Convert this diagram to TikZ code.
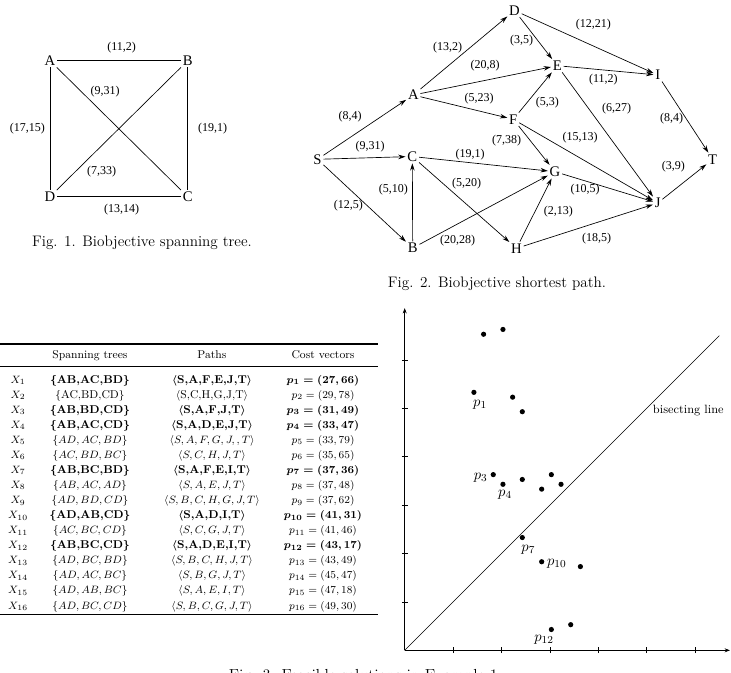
\documentclass[tikz,border=0pt]{standalone}
\usepackage{fontspec}
\usepackage{amsmath}
\newfontfamily\tms{Liberation Serif}
\usetikzlibrary{arrows.meta}
\tikzset{
  vtx/.style={font=\tms\fontsize{11}{11}\selectfont, inner sep=1.2pt},
  elab/.style={font=\tms\fontsize{9}{9}\selectfont, inner sep=0pt},
  edgeone/.style={line width=0.5pt},
  arr/.style={line width=0.5pt, -{Stealth[length=5.5pt,width=3.4pt]}},
  axarr/.style={line width=0.6pt, -{Stealth[length=4pt,width=3pt]}},
  tcell/.style={font=\fontsize{8.5}{10}\selectfont, inner sep=0pt, anchor=base},
  captxt/.style={font=\fontsize{11.4}{13}\selectfont, inner sep=0pt},
  plab/.style={font=\fontsize{11}{11}\selectfont, inner sep=0pt},
  blackdot/.style={fill=black}
}
\newcommand\bb[1]{{\bfseries\boldmath #1}}
\begin{document}
\begin{tikzpicture}[x=0.75pt,y=-0.75pt]
\useasboundingbox (0,0) rectangle (731,672);

% ---------- Fig. 1 ----------
\node[vtx] (fA) at (50,60.7) {A};
\node[vtx] (fB) at (187.7,60.7) {B};
\node[vtx] (fD) at (50,196.7) {D};
\node[vtx] (fC) at (187.7,196.7) {C};
\draw[edgeone] (fA) -- (fB);
\draw[edgeone] (fA) -- (fD);
\draw[edgeone] (fB) -- (fC);
\draw[edgeone] (fD) -- (fC);
\draw[edgeone] (fA) -- (fC);
\draw[edgeone] (fB) -- (fD);
\node[elab] (l11) at (121.7,47.3) {(11,2)};
\node[elab] (l12) at (105,91.7) {(9,31)};
\node[elab] (l13) at (27.3,128.3) {(17,15)};
\node[elab] (l14) at (212.7,128.3) {(19,1)};
\node[elab] (l15) at (101.7,171.7) {(7,33)};
\node[elab] (l16) at (121.7,209.3) {(13,14)};
\node[captxt] (cap1) at (142,243) {Fig. 1. Biobjective spanning tree.};

% ---------- Fig. 2 ----------
\node[vtx] (S) at (317.5,159.3) {S};
\node[vtx] (A) at (413.3,95) {A};
\node[vtx] (C) at (412.3,156.5) {C};
\node[vtx] (B) at (412.7,248) {B};
\node[vtx] (D) at (514.5,10.5) {D};
\node[vtx] (E) at (557.3,65.7) {E};
\node[vtx] (F) at (513.3,119.3) {F};
\node[vtx] (G) at (555,171.7) {G};
\node[vtx] (H) at (516.5,248.3) {H};
\node[vtx] (I) at (657.7,75) {I};
\node[vtx] (J) at (657.7,203) {J};
\node[vtx] (T) at (712.7,159.3) {T};
\draw[arr] (S) -- (A);
\draw[arr] (S) -- (C);
\draw[arr] (S) -- (B);
\draw[arr] (B) -- (C);
\draw[arr] (A) -- (D);
\draw[arr] (A) -- (E);
\draw[arr] (A) -- (F);
\draw[arr] (C) -- (G);
\draw[arr] (C) -- (H);
\draw[arr] (B) -- (G);
\draw[arr] (D) -- (E);
\draw[arr] (D) -- (I);
\draw[arr] (E) -- (I);
\draw[arr] (E) -- (J);
\draw[arr] (F) -- (E);
\draw[arr] (F) -- (G);
\draw[arr] (F) -- (J);
\draw[arr] (G) -- (J);
\draw[arr] (H) -- (G);
\draw[arr] (H) -- (J);
\draw[arr] (I) -- (T);
\draw[arr] (J) -- (T);
\node[elab] (m1) at (350,116.7) {(8,4)};
\node[elab] (m2) at (370,146.7) {(9,31)};
\node[elab] (m3) at (348.3,205.7) {(12,5)};
\node[elab] (m4) at (393.3,190) {(5,10)};
\node[elab] (m5) at (447.7,47.7) {(13,2)};
\node[elab] (m6) at (485,66) {(20,8)};
\node[elab] (m7) at (479,99) {(5,23)};
\node[elab] (m8) at (470,154.3) {(19,1)};
\node[elab] (m9) at (466.7,183.3) {(5,20)};
\node[elab] (m10) at (457.7,240.7) {(20,28)};
\node[elab] (m11) at (593.3,24.3) {(12,21)};
\node[elab] (m12) at (521.7,40.7) {(3,5)};
\node[elab] (m13) at (603.3,80) {(11,2)};
\node[elab] (m14) at (547.3,102.7) {(5,3)};
\node[elab] (m15) at (616.7,108.3) {(6,27)};
\node[elab] (m16) at (671.7,118.3) {(8,4)};
\node[elab] (m17) at (580,137.3) {(15,13)};
\node[elab] (m18) at (506.7,141) {(7,38)};
\node[elab] (m19) at (673.3,166.7) {(3,9)};
\node[elab] (m20) at (585,189.3) {(10,5)};
\node[elab] (m21) at (558.3,211.7) {(2,13)};
\node[elab] (m22) at (596.7,238.3) {(18,5)};
\node[captxt] (cap2) at (497,284) {Fig. 2. Biobjective shortest path.};

% ---------- Table ----------
\draw[line width=0.8pt] (0,344) -- (378,344);
\draw[line width=0.5pt] (0,366) -- (378,366);
\draw[line width=0.8pt] (0,614.5) -- (378,614.5);
\node[tcell] (h1) at (90,358.5) {Spanning trees};
\node[tcell] (h2) at (212,358.5) {Paths};
\node[tcell] (h3) at (323,358.5) {Cost vectors};

\node[tcell] (tx1) at (18,383) {$X_{1}$};
\node[tcell] (tt1) at (90,383) {\bb{$\{$AB,AC,BD$\}$}};
\node[tcell] (tp1) at (212,383) {\bb{$\langle$S,A,F,E,J,T$\rangle$}};
\node[tcell] (tc1) at (323,383) {\bb{$p_{1}=(27,66)$}};

\node[tcell] (tx2) at (18,398.07) {$X_{2}$};
\node[tcell] (tt2) at (90,398.07) {$\{$AC,BD,CD$\}$};
\node[tcell] (tp2) at (212,398.07) {$\langle$S,C,H,G,J,T$\rangle$};
\node[tcell] (tc2) at (323,398.07) {$p_{2}=(29,78)$};

\node[tcell] (tx3) at (18,413.14) {$X_{3}$};
\node[tcell] (tt3) at (90,413.14) {\bb{$\{$AB,BD,CD$\}$}};
\node[tcell] (tp3) at (212,413.14) {\bb{$\langle$S,A,F,J,T$\rangle$}};
\node[tcell] (tc3) at (323,413.14) {\bb{$p_{3}=(31,49)$}};

\node[tcell] (tx4) at (18,428.21) {$X_{4}$};
\node[tcell] (tt4) at (90,428.21) {\bb{$\{$AB,AC,CD$\}$}};
\node[tcell] (tp4) at (212,428.21) {\bb{$\langle$S,A,D,E,J,T$\rangle$}};
\node[tcell] (tc4) at (323,428.21) {\bb{$p_{4}=(33,47)$}};

\node[tcell] (tx5) at (18,443.28) {$X_{5}$};
\node[tcell] (tt5) at (90,443.28) {$\{AD,AC,BD\}$};
\node[tcell] (tp5) at (212,443.28) {$\langle S,A,F,G,J,,T\rangle$};
\node[tcell] (tc5) at (323,443.28) {$p_{5}=(33,79)$};

\node[tcell] (tx6) at (18,458.35) {$X_{6}$};
\node[tcell] (tt6) at (90,458.35) {$\{AC,BD,BC\}$};
\node[tcell] (tp6) at (212,458.35) {$\langle S,C,H,J,T\rangle$};
\node[tcell] (tc6) at (323,458.35) {$p_{6}=(35,65)$};

\node[tcell] (tx7) at (18,473.42) {$X_{7}$};
\node[tcell] (tt7) at (90,473.42) {\bb{$\{$AB,BC,BD$\}$}};
\node[tcell] (tp7) at (212,473.42) {\bb{$\langle$S,A,F,E,I,T$\rangle$}};
\node[tcell] (tc7) at (323,473.42) {\bb{$p_{7}=(37,36)$}};

\node[tcell] (tx8) at (18,488.49) {$X_{8}$};
\node[tcell] (tt8) at (90,488.49) {$\{AB,AC,AD\}$};
\node[tcell] (tp8) at (212,488.49) {$\langle S,A,E,J,T\rangle$};
\node[tcell] (tc8) at (323,488.49) {$p_{8}=(37,48)$};

\node[tcell] (tx9) at (18,503.56) {$X_{9}$};
\node[tcell] (tt9) at (90,503.56) {$\{AD,BD,CD\}$};
\node[tcell] (tp9) at (212,503.56) {$\langle S,B,C,H,G,J,T\rangle$};
\node[tcell] (tc9) at (323,503.56) {$p_{9}=(37,62)$};

\node[tcell] (tx10) at (18,518.63) {$X_{10}$};
\node[tcell] (tt10) at (90,518.63) {\bb{$\{$AD,AB,CD$\}$}};
\node[tcell] (tp10) at (212,518.63) {\bb{$\langle$S,A,D,I,T$\rangle$}};
\node[tcell] (tc10) at (323,518.63) {\bb{$p_{10}=(41,31)$}};

\node[tcell] (tx11) at (18,533.7) {$X_{11}$};
\node[tcell] (tt11) at (90,533.7) {$\{AC,BC,CD\}$};
\node[tcell] (tp11) at (212,533.7) {$\langle S,C,G,J,T\rangle$};
\node[tcell] (tc11) at (323,533.7) {$p_{11}=(41,46)$};

\node[tcell] (tx12) at (18,548.77) {$X_{12}$};
\node[tcell] (tt12) at (90,548.77) {\bb{$\{$AB,BC,CD$\}$}};
\node[tcell] (tp12) at (212,548.77) {\bb{$\langle$S,A,D,E,I,T$\rangle$}};
\node[tcell] (tc12) at (323,548.77) {\bb{$p_{12}=(43,17)$}};

\node[tcell] (tx13) at (18,563.84) {$X_{13}$};
\node[tcell] (tt13) at (90,563.84) {$\{AD,BC,BD\}$};
\node[tcell] (tp13) at (212,563.84) {$\langle S,B,C,H,J,T\rangle$};
\node[tcell] (tc13) at (323,563.84) {$p_{13}=(43,49)$};

\node[tcell] (tx14) at (18,578.91) {$X_{14}$};
\node[tcell] (tt14) at (90,578.91) {$\{AD,AC,BC\}$};
\node[tcell] (tp14) at (212,578.91) {$\langle S,B,G,J,T\rangle$};
\node[tcell] (tc14) at (323,578.91) {$p_{14}=(45,47)$};

\node[tcell] (tx15) at (18,593.98) {$X_{15}$};
\node[tcell] (tt15) at (90,593.98) {$\{AD,AB,BC\}$};
\node[tcell] (tp15) at (212,593.98) {$\langle S,A,E,I,T\rangle$};
\node[tcell] (tc15) at (323,593.98) {$p_{15}=(47,18)$};

\node[tcell] (tx16) at (18,609.05) {$X_{16}$};
\node[tcell] (tt16) at (90,609.05) {$\{AD,BC,CD\}$};
\node[tcell] (tp16) at (212,609.05) {$\langle S,B,C,G,J,T\rangle$};
\node[tcell] (tc16) at (323,609.05) {$p_{16}=(49,30)$};

% ---------- Fig. 3 scatter ----------
\begin{scope}[shift={(257.42pt,-533.83pt)}, x=3.63pt, y=3.63pt]
  \coordinate (O) at (12.7,12.7);
  \coordinate (xe) at (79.9,12.7);
  \coordinate (ye) at (12.7,83.4);
  \coordinate (be) at (77.7,77.7);
  \draw[axarr] (O) -- (xe);
  \draw[axarr] (O) -- (ye);
  \draw[line width=0.5pt] (O) -- (be);
  \foreach \k in {1,...,6} {
    \draw[line width=0.5pt] ({12.7+10*\k},12.1) -- ({12.7+10*\k},13.3);
    \draw[line width=0.5pt] (12.1,{12.7+10*\k}) -- (13.3,{12.7+10*\k});
  }
  \foreach \px/\py in {27/66,29/78,31/49,33/47,33/79,35/65,37/36,37/48,37/62,41/31,41/46,43/17,43/49,45/47,47/18,49/30}
    \fill[blackdot] (\px,\py) circle[radius=1.95pt];
\end{scope}
\node[plab] (lp1) at (480,405) {$p_1$};
\node[plab] (lp3) at (480.7,477.7) {$p_3$};
\node[plab] (lp4) at (505,495) {$p_4$};
\node[plab] (lp7) at (528.3,550) {$p_7$};
\node[plab] (lp10) at (556.7,564) {$p_{10}$};
\node[plab] (lp12) at (544,639.3) {$p_{12}$};
\node[font=\fontsize{9}{11}\selectfont, inner sep=0pt] (bis) at (688.3,410.7) {bisecting line};
\node[font=\fontsize{12}{14}\selectfont, inner sep=0pt, anchor=base] (cap3) at (365.5,680.5) {Fig. 3. Feasible solutions in Example 1.};
\end{tikzpicture}
\end{document}
